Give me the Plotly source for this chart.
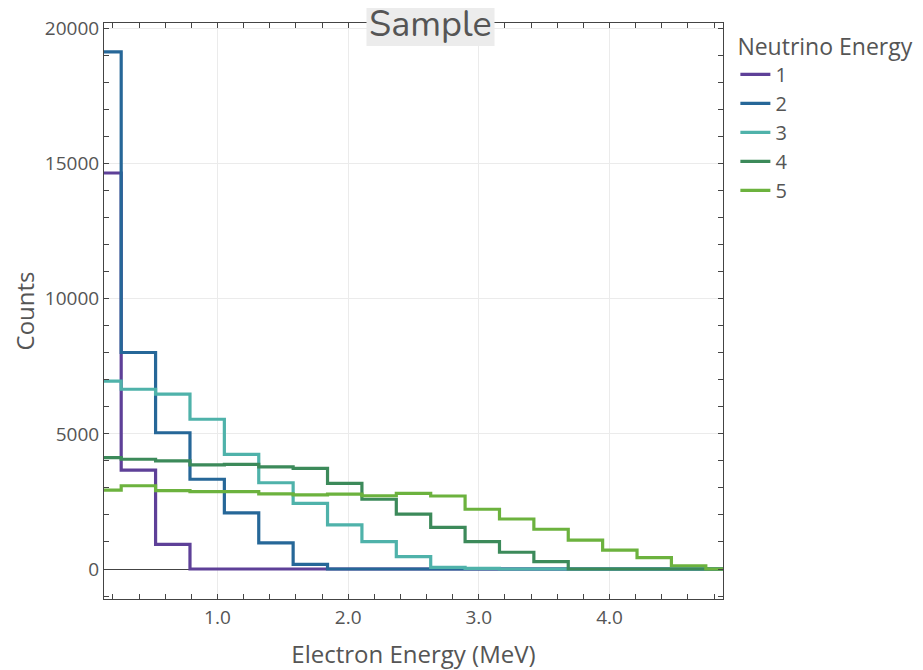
import plotly.graph_objects as go

# Bin centres (MeV) of the 19 electron-energy bins
electron_energy = [0.1316, 0.3947, 0.6579, 0.9211, 1.1842, 1.4474, 1.7105, 1.9737,
                   2.2368, 2.5000, 2.7632, 3.0263, 3.2895, 3.5526, 3.8158, 4.0789,
                   4.3421, 4.6053, 4.8684]

counts_1 = [14650, 3660, 910, 0, 0, 0, 0, 0, 0, 0, 0, 0, 0, 0, 0, 0, 0, 0, 0]
counts_2 = [19130, 8010, 5040, 3320, 2080, 970, 170, 0, 0, 0, 0, 0, 0, 0, 0, 0, 0, 0, 0]
counts_3 = [6950, 6650, 6470, 5540, 4240, 3190, 2430, 1630, 1010, 455, 60, 20, 0, 0, 0, 0, 0, 0, 0]
counts_4 = [4120, 4060, 4000, 3850, 3870, 3780, 3720, 3170, 2580, 2030, 1540, 1010, 620, 270, 0, 0, 0, 0, 0]
counts_5 = [2920, 3080, 2900, 2860, 2860, 2780, 2740, 2770, 2710, 2800, 2700, 2210, 1850, 1470, 1070, 700, 420, 120, 0]

series_names = ["1", "2", "3", "4", "5"]
series_values = [counts_1, counts_2, counts_3, counts_4, counts_5]
series_colors = ["#5e4098", "#266798", "#4fb2aa", "#3c8a5a", "#6cb23e"]

x_tick_vals = [1.0, 2.0, 3.0, 4.0]
y_tick_vals = [0, 5000, 10000, 15000, 20000]

FONT = '"Open Sans", verdana, arial, sans-serif'

fig = go.Figure()
for name, vals, col in zip(series_names, series_values, series_colors):
    fig.add_trace(go.Scatter(
        x=electron_energy, y=vals, name=name, mode="lines",
        line=dict(shape="hvh", color=col, width=3.2),
    ))

axis_common = dict(
    showline=True, linecolor="#444", linewidth=1, mirror="allticks",
    ticks="inside", ticklen=5, tickcolor="#444", tickwidth=1,
    showgrid=True, gridcolor="#ebebeb", gridwidth=1,
    tickfont=dict(family=FONT, size=19, color="#555"),
    automargin=False,
)

fig.update_xaxes(
    **axis_common,
    range=[electron_energy[0], electron_energy[-1]],
    tickvals=x_tick_vals, tickformat=".1f",
    ticklabelstandoff=1,
    minor=dict(dtick=0.2, tick0=0, ticks="inside", ticklen=5, tickcolor="#444", showgrid=False),
    zeroline=False,
    title=dict(text="Electron Energy (MeV)", font=dict(family=FONT, size=24, color="#555"), standoff=20),
)
fig.update_yaxes(
    **axis_common,
    range=[-1110, 20200],
    tickvals=y_tick_vals, tickformat="d",
    minor=dict(dtick=1000, tick0=0, ticks="inside", ticklen=5, tickcolor="#444", showgrid=False),
    zeroline=True, zerolinecolor="#444", zerolinewidth=1,
    title=dict(text="Counts", font=dict(family=FONT, size=24, color="#555"), standoff=13),
)

# plot area in figure pixels: left 96, width 619, top 15, height 576
def px_x(p):
    return (p - 96.5) / 619.0

def px_y(p):
    return (591.0 - p) / 576.0

fig.add_shape(
    type="rect", xref="paper", yref="paper",
    x0=px_x(359), x1=px_x(487), y0=px_y(38), y1=px_y(-7),
    fillcolor="#ececec", line=dict(width=0), layer="above",
)
fig.add_annotation(
    text="Sample", xref="paper", yref="paper",
    x=px_x(423), y=px_y(17), xanchor="center", yanchor="middle",
    showarrow=False,
    font=dict(family="Nunito, Lato, 'Open Sans', sans-serif", size=36, color="#555"),
)

fig.update_layout(
    width=915, height=662,
    margin=dict(l=96, r=200, t=15, b=71, autoexpand=False),
    paper_bgcolor="white", plot_bgcolor="white",
    font=dict(family=FONT, color="#555"),
    showlegend=True,
    legend=dict(
        title=dict(text="Neutrino Energy", font=dict(family=FONT, size=23, color="#555")),
        font=dict(family=FONT, size=20, color="#555"),
        x=1.02, y=1 - 2 / 576, xanchor="left", yanchor="top",
        tracegroupgap=0,
        bgcolor="rgba(0,0,0,0)",
    ),
)

fig.write_html("out.html")
